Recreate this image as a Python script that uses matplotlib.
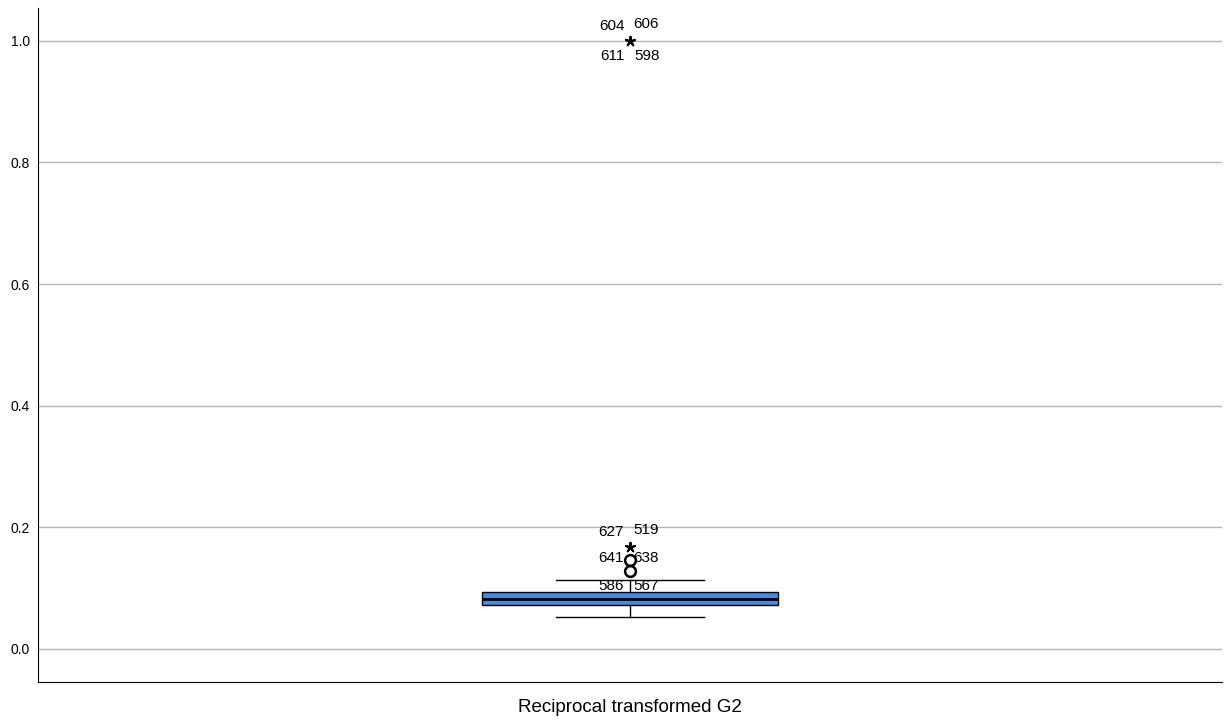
import matplotlib.pyplot as plt

plt.rcParams['font.family'] = ['Liberation Sans', 'DejaVu Sans']

# box statistics
label = 'Reciprocal transformed G2'
q1, med, q3 = 0.0724, 0.0830, 0.0938
whislo, whishi = 0.0526, 0.1135

# outliers (circles = mild, stars = extreme)
mild_vals = [0.146, 0.128]
extreme_vals = [1.0, 0.168]

# case labels: (value, text, dx, dy) offsets in pixels
case_labels = [
    (1.0, '604', -18, 15), (1.0, '606', 16, 17),
    (1.0, '611', -18, -15), (1.0, '598', 17, -15),
    (0.168, '627', -19, 15), (0.168, '519', 16, 17),
    (0.146, '641', -19, 2), (0.146, '638', 16, 2),
    (0.128, '586', -19, -15), (0.128, '567', 16, -15),
]

fig = plt.figure(figsize=(12.25, 7.23), dpi=100)
ax = fig.add_axes([0.031, 0.0567, 0.9665, 0.9323])

stats = [dict(med=med, q1=q1, q3=q3, whislo=whislo, whishi=whishi, fliers=[], label=label)]
ax.bxp(stats, positions=[1], widths=0.25, patch_artist=True, showfliers=False,
       boxprops=dict(facecolor='#4a88dc', edgecolor='black', linewidth=1),
       medianprops=dict(color='black', linewidth=2),
       whiskerprops=dict(color='black', linewidth=1),
       capprops=dict(color='black', linewidth=1), capwidths=0.125)

ax.scatter([1] * len(mild_vals), mild_vals, s=60, facecolors='white',
           edgecolors='black', linewidths=1.8, zorder=5)
ax.scatter([1] * len(extreme_vals), extreme_vals, s=45, marker=(5, 2, 0),
           color='black', linewidths=1.5, zorder=5)

for v, t, dx, dy in case_labels:
    ax.annotate(t, (1, v), xytext=(dx, dy), textcoords='offset pixels',
                ha='center', va='center', fontsize=11)

ax.set_xlim(0.5, 1.5)
ax.set_ylim(-0.0543, 1.054)
ax.set_yticks([0.0, 0.2, 0.4, 0.6, 0.8, 1.0])
ax.set_yticklabels(['0.0', '0.2', '0.4', '0.6', '0.8', '1.0'])
ax.set_xticks([1])
ax.set_xticklabels([label])
ax.tick_params(axis='y', length=0, labelsize=10, pad=6)
ax.tick_params(axis='x', length=0, labelsize=13.5, pad=12)
ax.yaxis.grid(True, color='#b4b4b4', linewidth=1)
ax.set_axisbelow(True)
for s in ['top', 'right']:
    ax.spines[s].set_visible(False)
ax.spines['left'].set_linewidth(0.8)
ax.spines['bottom'].set_linewidth(0.8)

fig.savefig('out.png', dpi=100)
